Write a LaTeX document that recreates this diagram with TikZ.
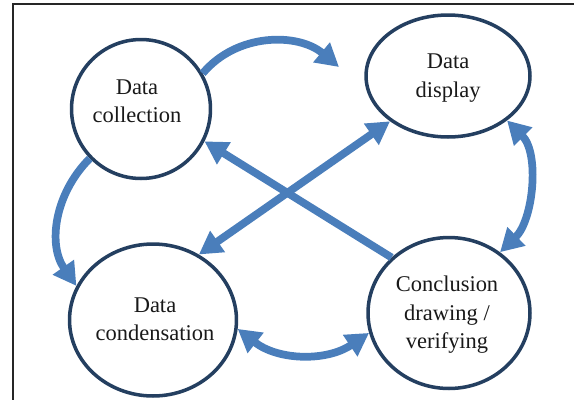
\documentclass[tikz,border=0pt]{standalone}
\usepackage{fontspec}
\setmainfont{Liberation Serif}
\usetikzlibrary{arrows.meta,shapes.geometric}
\definecolor{ringblue}{HTML}{243F60}
\definecolor{flowblue}{HTML}{4A7EBB}

\begin{document}
\begin{tikzpicture}[x=0.02cm, y=0.02cm,
        stage/.style={draw=ringblue, line width=2pt, ellipse, inner sep=0pt},
        lbl/.style={align=center, font=\fontsize{12.8}{16.2}\selectfont, text=black!90},
        flow/.style={draw=flowblue, line width=4.4pt, -{Triangle[length=13pt, width=14pt]}},
        twoway/.style={draw=flowblue, line width=4.4pt, {Triangle[length=13pt, width=14pt]}-{Triangle[length=13pt, width=14pt]}},
        frame/.style={draw=black!85, line width=1.2pt}
    ]
        \useasboundingbox (0,0) rectangle (574,-400);
        \draw [frame] (574,-4) -| (13,-400);

        \node [stage, minimum width=2.78cm, minimum height=2.78cm] (coll) at (141,-109) {};
        \node [stage, minimum width=3.28cm, minimum height=2.44cm] (disp) at (448,-76) {};
        \node [stage, minimum width=3.34cm, minimum height=3.04cm] (cond) at (153,-320) {};
        \node [stage, minimum width=3.24cm, minimum height=3.02cm] (concl) at (449,-313) {};

        \node [lbl] (coll-t) at (137,-101) {Data\\collection};
        \node [lbl] (disp-t) at (448,-78) {Data\\display};
        \node [lbl] (cond-t) at (155,-319) {Data\\condensation};
        \node [lbl] (concl-t) at (447,-315) {Conclusion\\drawing /\\verifying};

        \coordinate (disp-in) at (339,-67);

        \draw [flow] (coll.30) to[out=50, in=140] (disp-in);
        \draw [flow] (coll.224) to[out=225, in=125] (cond.156);
        \draw [twoway] (disp.-37) to[out=-45, in=44, looseness=0.9] (concl.50);
        \draw [twoway] (cond.-6) to[out=-38, in=214] (concl.194);
        \draw [flow] (concl.136) -- (coll.-27);
        \draw [twoway] (cond.55) -- (disp.218);
    \end{tikzpicture}
\end{document}
